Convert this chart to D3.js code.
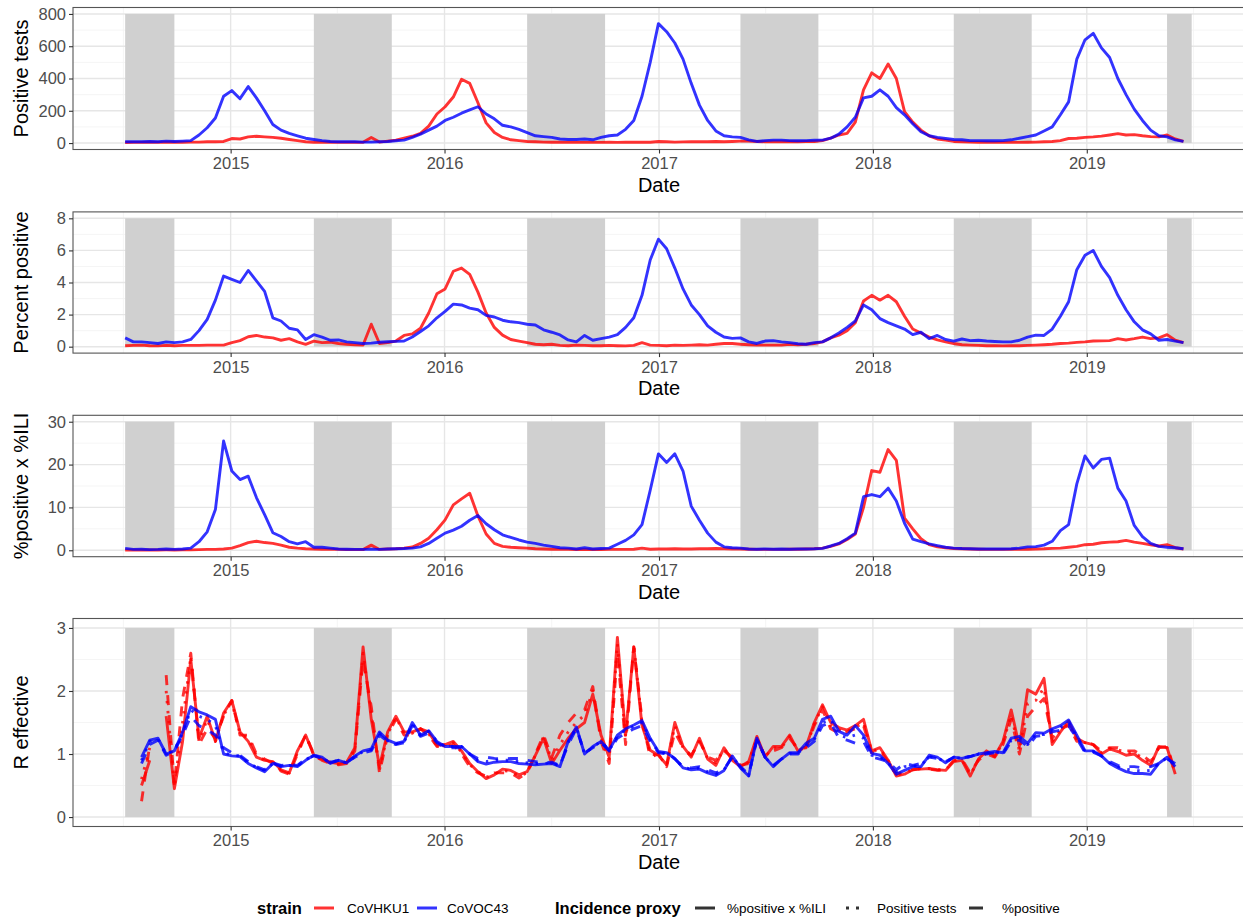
<!DOCTYPE html>
<html>
<head>
<meta charset="utf-8">
<script src="https://cdn.jsdelivr.net/npm/d3@7"></script>
<style>
  body { margin: 0; background: #fff; }
  svg { display: block; font-family: "Liberation Sans", Arial, Helvetica, sans-serif; }
</style>
</head>
<body>
<svg id="chart" width="1243" height="921"></svg>
<script>
// ---------------------------------------------------------------------------
// Fortnightly surveillance series, July 2014 – June 2019
// ---------------------------------------------------------------------------
const sampleStart = "2014-07-05";
const sampleStepDays = 14;
const sampleCount = 130;

const strains = ["CoVHKU1", "CoVOC43"];
const strainColors = ["#ff0000", "#0000ff"];
const proxies = ["%positive x %ILI", "Positive tests", "%positive"];

// Off-season periods (shaded)
const offSeasonStart = ["2014-07-05", "2015-05-23", "2016-05-21", "2017-05-20", "2018-05-19", "2019-05-18"];
const offSeasonEnd   = ["2014-09-27", "2015-10-03", "2016-10-01", "2017-09-30", "2018-09-29", "2019-06-29"];

const yearTicks = ["2015", "2016", "2017", "2018", "2019"];

// Positive tests
const posTestsHKU1 = [
  3,4,4,5,4,5,5,5,6,6,
  8,8,10,28,25,38,42,38,35,30,
  22,15,8,5,5,5,4,4,4,5,
  35,6,12,18,30,42,60,105,180,225,
  285,395,370,250,125,65,35,20,15,10,
  8,6,5,5,4,4,4,4,4,5,
  4,5,5,6,5,10,8,6,7,8,
  8,8,10,8,10,12,12,10,8,8,
  8,8,8,10,10,15,30,50,60,130,
  330,435,400,490,400,195,130,80,45,25,
  18,10,8,6,5,5,4,4,4,4,
  5,6,8,10,15,28,30,35,38,43,
  50,58,50,52,45,40,38,50,25,10
];
const posTestsOC43 = [
  8,8,8,10,8,12,10,12,15,50,
  95,155,290,325,275,350,280,200,115,80,
  60,45,30,22,15,10,8,8,8,6,
  6,8,10,14,18,35,55,80,105,140,
  160,185,205,225,180,150,110,100,85,65,
  45,40,35,25,22,22,25,20,35,45,
  50,85,140,290,500,740,690,620,520,370,
  235,140,75,45,38,35,20,10,15,18,
  18,15,14,15,17,18,30,55,100,160,
  280,290,330,290,220,175,120,70,45,35,
  28,22,20,15,15,14,14,15,20,30,
  40,50,75,100,175,255,520,640,680,590,
  530,400,300,210,140,80,45,38,20,10
];

// Percent positive
const pctPosHKU1 = [
  0.06,0.08,0.1,0.06,0.05,0.08,0.06,0.08,0.08,0.08,
  0.1,0.1,0.1,0.25,0.38,0.62,0.7,0.6,0.55,0.4,
  0.5,0.3,0.15,0.35,0.25,0.28,0.2,0.15,0.12,0.1,
  1.4,0.2,0.25,0.35,0.7,0.8,1.15,2.1,3.3,3.6,
  4.7,4.9,4.5,3.4,2.1,1.2,0.72,0.45,0.35,0.25,
  0.15,0.12,0.15,0.08,0.06,0.1,0.08,0.06,0.06,0.08,
  0.06,0.05,0.08,0.25,0.1,0.08,0.06,0.1,0.08,0.1,
  0.12,0.1,0.15,0.2,0.2,0.15,0.12,0.1,0.1,0.1,
  0.1,0.15,0.12,0.15,0.2,0.3,0.55,0.72,1.0,1.5,
  2.85,3.2,2.9,3.2,2.8,1.9,1.1,0.85,0.6,0.42,
  0.3,0.2,0.12,0.1,0.08,0.06,0.06,0.05,0.06,0.06,
  0.08,0.1,0.12,0.15,0.2,0.22,0.27,0.3,0.35,0.36,
  0.38,0.5,0.42,0.5,0.6,0.5,0.55,0.75,0.4,0.25
];
const pctPosOC43 = [
  0.55,0.3,0.3,0.25,0.2,0.3,0.25,0.3,0.45,1.0,
  1.7,2.9,4.4,4.2,4.0,4.75,4.1,3.45,1.8,1.6,
  1.15,1.05,0.45,0.75,0.6,0.4,0.42,0.3,0.25,0.2,
  0.22,0.28,0.31,0.33,0.35,0.6,0.95,1.3,1.8,2.2,
  2.65,2.6,2.4,2.3,1.95,1.85,1.65,1.55,1.5,1.4,
  1.35,1.05,0.9,0.73,0.42,0.3,0.7,0.4,0.5,0.6,
  0.75,1.2,1.8,3.2,5.4,6.7,6.1,4.9,3.6,2.6,
  2.0,1.3,0.9,0.6,0.52,0.55,0.3,0.2,0.35,0.38,
  0.3,0.25,0.18,0.15,0.25,0.3,0.55,0.85,1.2,1.6,
  2.6,2.3,1.75,1.5,1.3,1.1,0.75,0.9,0.5,0.7,
  0.45,0.35,0.48,0.38,0.4,0.35,0.32,0.3,0.3,0.4,
  0.6,0.72,0.7,1.1,1.9,2.8,4.8,5.7,6.0,5.0,
  4.3,3.2,2.3,1.55,1.05,0.8,0.4,0.45,0.35,0.25
];

// %positive x %ILI
const iliHKU1 = [
  0.05,0.08,0.1,0.05,0.08,0.1,0.08,0.1,0.1,0.15,
  0.2,0.2,0.3,0.5,1.1,1.8,2.1,1.8,1.6,1.2,
  0.7,0.5,0.35,0.3,0.25,0.2,0.2,0.15,0.15,0.15,
  1.2,0.2,0.3,0.35,0.5,0.75,1.6,2.8,4.8,7.1,
  10.6,12.0,13.3,8.0,3.8,1.6,0.9,0.7,0.6,0.5,
  0.35,0.3,0.25,0.2,0.2,0.15,0.2,0.15,0.15,0.2,
  0.2,0.2,0.25,0.5,0.25,0.3,0.3,0.35,0.3,0.3,
  0.35,0.35,0.4,0.35,0.3,0.3,0.25,0.2,0.2,0.2,
  0.2,0.25,0.25,0.3,0.35,0.5,0.9,1.5,2.5,3.8,
  10.0,18.6,18.2,23.5,21.0,7.5,5.0,2.7,1.3,0.8,
  0.6,0.4,0.35,0.3,0.25,0.2,0.2,0.2,0.2,0.2,
  0.25,0.3,0.35,0.45,0.5,0.7,0.9,1.3,1.4,1.75,
  1.9,2.0,2.3,1.9,1.6,1.3,1.0,1.3,0.6,0.3
];
const iliOC43 = [
  0.45,0.2,0.25,0.15,0.2,0.3,0.2,0.3,0.5,2.0,
  4.3,9.5,25.5,18.5,16.5,17.3,12.3,8.3,4.1,3.2,
  2.0,1.5,2.0,0.7,0.7,0.5,0.3,0.25,0.2,0.2,
  0.25,0.2,0.3,0.35,0.4,0.5,0.8,1.6,2.8,4.0,
  4.7,5.6,7.0,8.1,6.2,4.8,3.6,3.0,2.4,1.9,
  1.6,1.2,0.9,0.6,0.5,0.3,0.6,0.3,0.4,0.5,
  1.4,2.3,3.6,6.0,14.0,22.5,20.5,22.5,18.5,10.3,
  7.0,4.0,1.9,0.8,0.6,0.5,0.3,0.25,0.3,0.25,
  0.3,0.25,0.3,0.3,0.35,0.45,1.0,1.6,2.7,4.0,
  12.5,13.0,12.5,14.5,11.5,6.3,2.6,2.0,1.5,1.1,
  0.7,0.5,0.4,0.35,0.3,0.3,0.3,0.3,0.35,0.5,
  0.8,0.85,1.2,2.1,4.6,6.0,15.5,22.0,19.2,21.2,
  21.5,14.5,11.5,5.8,3.2,1.6,0.9,0.7,0.6,0.35
];

// R effective, one series per strain and incidence proxy
const rIliHKU1 = [
  null,null,0.5,0.9,null,1.6,0.45,1.2,2.5,1.25,
  1.6,1.2,1.65,1.85,1.35,1.2,0.95,0.9,0.88,0.75,
  0.7,1.05,1.3,0.98,0.92,0.87,0.85,0.87,1.1,2.7,
  1.55,0.8,1.35,1.6,1.35,1.35,1.4,1.35,1.14,1.15,
  1.2,1.05,0.85,0.72,0.61,0.67,0.76,0.74,0.67,0.72,
  0.98,1.25,0.85,1.06,1.25,1.4,1.5,1.95,1.3,0.95,
  2.85,1.3,2.7,1.45,1.06,0.98,0.83,1.5,1.12,0.95,
  1.25,0.92,0.82,1.1,0.9,0.8,0.88,1.28,0.95,1.12,
  1.12,1.3,1.05,1.12,1.5,1.78,1.5,1.42,1.38,1.45,
  1.55,1.05,1.1,0.9,0.65,0.68,0.75,0.76,0.77,0.75,
  0.74,0.88,0.9,0.65,0.92,1.05,0.97,1.2,1.7,1.12,
  2.02,1.95,2.2,1.15,1.35,1.52,1.25,1.18,1.15,1.0,
  1.08,1.04,0.98,1.0,0.9,0.82,1.12,1.1,0.68,null
];
const rPctHKU1 = [
  null,null,0.25,1.15,null,2.25,0.5,1.88,2.6,1.15,
  1.4,1.25,1.6,1.85,1.3,1.3,1.0,0.92,0.85,0.73,
  0.68,1.0,1.3,1.0,0.9,0.85,0.83,0.85,1.05,2.5,
  1.75,0.7,1.3,1.55,1.3,1.3,1.4,1.3,1.12,1.12,
  1.15,1.0,0.8,0.7,0.65,0.7,0.7,0.7,0.62,0.7,
  1.0,1.3,0.95,1.3,1.5,1.65,1.7,2.07,1.2,0.85,
  2.6,1.15,2.7,1.55,0.95,1.0,0.8,1.35,1.1,0.98,
  1.2,0.95,0.9,1.05,0.95,0.82,0.85,1.2,0.98,1.05,
  1.1,1.25,1.08,1.1,1.45,1.7,1.4,1.33,1.35,1.4,
  1.45,1.02,1.05,0.88,0.68,0.72,0.75,0.78,0.76,0.74,
  0.75,0.9,0.92,0.7,0.9,1.0,0.95,1.15,1.55,1.0,
  1.6,1.75,1.88,1.25,1.4,1.45,1.2,1.2,1.15,1.05,
  1.1,1.1,1.05,1.05,0.98,0.88,1.1,1.12,0.72,null
];
const rTestsHKU1 = [
  null,null,0.6,1.1,null,2.0,0.48,1.5,2.55,1.2,
  1.55,1.2,1.62,1.82,1.32,1.25,0.98,0.9,0.87,0.74,
  0.7,1.02,1.3,0.98,0.9,0.86,0.84,0.86,1.08,2.6,
  1.65,0.75,1.32,1.58,1.33,1.33,1.4,1.32,1.13,1.13,
  1.18,1.03,0.83,0.72,0.63,0.68,0.74,0.72,0.65,0.7,
  0.98,1.28,0.9,1.15,1.35,1.5,1.62,2.0,1.25,0.9,
  2.75,1.25,2.72,1.5,1.0,0.98,0.82,1.45,1.1,0.96,
  1.22,0.93,0.86,1.08,0.92,0.8,0.87,1.25,0.96,1.1,
  1.1,1.28,1.06,1.1,1.48,1.75,1.45,1.38,1.36,1.42,
  1.5,1.04,1.08,0.9,0.66,0.7,0.75,0.77,0.77,0.75,
  0.75,0.89,0.91,0.67,0.9,1.02,0.96,1.18,1.62,1.05,
  1.8,1.85,2.05,1.2,1.38,1.48,1.22,1.18,1.15,1.02,
  1.09,1.07,1.02,1.02,0.94,0.85,1.1,1.1,0.7,null
];
const rIliOC43 = [
  null,null,0.95,1.22,1.25,1.0,1.05,1.35,1.75,1.67,
  1.62,1.55,1.0,0.97,0.96,0.85,0.78,0.72,0.85,0.8,
  0.82,0.8,0.9,0.98,0.95,0.85,0.9,0.86,0.97,1.05,
  1.08,1.35,1.22,1.17,1.2,1.5,1.3,1.37,1.2,1.12,
  1.12,1.12,1.0,0.88,0.84,0.87,0.88,0.88,0.85,0.84,
  0.83,0.84,0.85,0.8,1.2,1.43,1.0,1.12,1.2,1.06,
  1.3,1.4,1.46,1.53,1.25,1.04,1.02,0.93,0.78,0.75,
  0.76,0.7,0.66,0.74,0.97,0.78,0.65,1.25,0.95,0.8,
  0.92,1.02,1.02,1.17,1.25,1.55,1.6,1.36,1.3,1.45,
  1.3,1.01,0.98,0.85,0.68,0.74,0.8,0.8,0.98,0.95,
  0.86,0.95,0.93,0.96,1.0,1.02,1.04,1.02,1.25,1.28,
  1.17,1.34,1.33,1.4,1.45,1.54,1.3,1.05,1.05,0.97,
  0.85,0.78,0.72,0.69,0.69,0.68,0.85,0.95,0.8,null
];
const rPctOC43 = [
  null,null,0.85,1.15,1.22,0.98,1.05,1.3,1.6,1.45,
  1.38,1.3,1.1,1.02,0.98,0.88,0.8,0.75,0.86,0.82,
  0.83,0.82,0.92,0.97,0.93,0.87,0.9,0.87,0.95,1.02,
  1.05,1.3,1.2,1.15,1.18,1.45,1.28,1.33,1.18,1.1,
  1.1,1.1,1.0,0.93,0.95,0.93,0.92,0.93,0.93,0.9,
  0.88,0.86,0.87,0.82,1.15,1.4,1.02,1.1,1.18,1.05,
  1.25,1.33,1.4,1.45,1.2,1.02,1.0,0.92,0.8,0.78,
  0.8,0.75,0.7,0.76,0.95,0.8,0.68,1.22,0.95,0.82,
  0.92,1.0,1.0,1.1,1.2,1.45,1.5,1.25,1.22,1.17,
  1.2,0.95,0.92,0.88,0.75,0.85,0.82,0.85,0.95,0.93,
  0.88,0.95,0.94,0.96,1.0,1.0,1.02,1.0,1.2,1.22,
  1.12,1.28,1.3,1.35,1.38,1.45,1.25,1.02,1.03,0.97,
  0.88,0.82,0.8,0.8,0.78,0.8,0.85,0.92,0.85,null
];
const rTestsOC43 = [
  null,null,0.9,1.2,1.24,1.0,1.06,1.33,1.7,1.6,
  1.55,1.45,1.02,0.98,0.97,0.86,0.79,0.74,0.85,0.81,
  0.82,0.81,0.91,0.98,0.94,0.86,0.9,0.86,0.96,1.04,
  1.07,1.33,1.21,1.16,1.19,1.48,1.3,1.36,1.2,1.12,
  1.12,1.12,1.0,0.9,0.88,0.9,0.9,0.9,0.88,0.86,
  0.85,0.85,0.86,0.81,1.18,1.42,1.0,1.11,1.2,1.06,
  1.28,1.38,1.44,1.5,1.23,1.03,1.01,0.93,0.79,0.76,
  0.78,0.72,0.68,0.75,0.96,0.79,0.66,1.24,0.95,0.81,
  0.92,1.01,1.01,1.14,1.23,1.5,1.55,1.3,1.26,1.3,
  1.25,0.98,0.95,0.86,0.72,0.8,0.81,0.82,0.96,0.94,
  0.87,0.95,0.93,0.96,1.0,1.01,1.03,1.01,1.22,1.25,
  1.15,1.31,1.31,1.38,1.42,1.5,1.28,1.04,1.04,0.97,
  0.86,0.8,0.76,0.74,0.73,0.74,0.85,0.94,0.82,null
];

// ---------------------------------------------------------------------------
// Layout
// ---------------------------------------------------------------------------
const parse = d3.utcParse("%Y-%m-%d");
const dates = d3.range(sampleCount).map(i => d3.utcDay.offset(parse(sampleStart), sampleStepDays * i));

const svg = d3.select("#chart");
const plotLeft = 73, plotRight = 1245;

const x = d3.scaleUtc()
  .domain([parse("2014-04-07"), parse("2019-09-28")])
  .range([plotLeft, plotRight]);

const majorX = yearTicks.map(y => parse(y + "-01-01"));
const minorX = ["2014", "2015", "2016", "2017", "2018", "2019"].map(y => parse(y + "-07-02"));

const dashFor = {
  "%positive x %ILI": null,
  "Positive tests": "2.5,7.5",
  "%positive": "10,10"
};

const panels = [
  { title: "Positive tests", top: 7.5, bottom: 149.5, domain: [-40, 840],
    ticks: [0, 200, 400, 600, 800], minor: [100, 300, 500, 700], shadeTop: 800,
    series: [
      { values: posTestsHKU1, strain: 0, proxy: "%positive x %ILI" },
      { values: posTestsOC43, strain: 1, proxy: "%positive x %ILI" }
    ] },
  { title: "Percent positive", top: 211.9, bottom: 353.1, domain: [-0.4, 8.4],
    ticks: [0, 2, 4, 6, 8], minor: [1, 3, 5, 7], shadeTop: 8,
    series: [
      { values: pctPosHKU1, strain: 0, proxy: "%positive x %ILI" },
      { values: pctPosOC43, strain: 1, proxy: "%positive x %ILI" }
    ] },
  { title: "%positive x %ILI", top: 415.3, bottom: 556.7, domain: [-1.5, 31.5],
    ticks: [0, 10, 20, 30], minor: [5, 15, 25], shadeTop: 30,
    series: [
      { values: iliHKU1, strain: 0, proxy: "%positive x %ILI" },
      { values: iliOC43, strain: 1, proxy: "%positive x %ILI" }
    ] },
  { title: "R effective", top: 618.5, bottom: 826.5, domain: [-0.15, 3.15],
    ticks: [0, 1, 2, 3], minor: [0.5, 1.5, 2.5], shadeTop: 3,
    series: [
      { values: rIliHKU1, strain: 0, proxy: "%positive x %ILI" },
      { values: rTestsHKU1, strain: 0, proxy: "Positive tests" },
      { values: rPctHKU1, strain: 0, proxy: "%positive" },
      { values: rIliOC43, strain: 1, proxy: "%positive x %ILI" },
      { values: rTestsOC43, strain: 1, proxy: "Positive tests" },
      { values: rPctOC43, strain: 1, proxy: "%positive" }
    ] }
];

const gridMajor = "#e6e6e6", gridMinor = "#f2f2f2";
const tickColor = "#4d4d4d";

panels.forEach((p, pi) => {
  const g = svg.append("g").attr("class", "panel-" + pi);
  const y = d3.scaleLinear().domain(p.domain).range([p.bottom, p.top]);

  // background + grid
  g.append("rect").attr("x", plotLeft).attr("y", p.top)
    .attr("width", plotRight - plotLeft).attr("height", p.bottom - p.top).attr("fill", "#fff");

  g.selectAll(".ymin").data(p.minor).join("line")
    .attr("x1", plotLeft).attr("x2", plotRight)
    .attr("y1", d => y(d)).attr("y2", d => y(d))
    .attr("stroke", gridMinor).attr("stroke-width", 0.8);
  g.selectAll(".xmin").data(minorX).join("line")
    .attr("x1", d => x(d)).attr("x2", d => x(d))
    .attr("y1", p.top).attr("y2", p.bottom)
    .attr("stroke", gridMinor).attr("stroke-width", 0.8);
  g.selectAll(".ymaj").data(p.ticks).join("line")
    .attr("x1", plotLeft).attr("x2", plotRight)
    .attr("y1", d => y(d)).attr("y2", d => y(d))
    .attr("stroke", gridMajor).attr("stroke-width", 1.4);
  g.selectAll(".xmaj").data(majorX).join("line")
    .attr("x1", d => x(d)).attr("x2", d => x(d))
    .attr("y1", p.top).attr("y2", p.bottom)
    .attr("stroke", gridMajor).attr("stroke-width", 1.4);

  // off-season shading
  g.selectAll(".shade").data(offSeasonStart.map((s, i) => [parse(s), parse(offSeasonEnd[i])])).join("rect")
    .attr("x", d => x(d[0])).attr("width", d => x(d[1]) - x(d[0]))
    .attr("y", y(p.shadeTop)).attr("height", y(0) - y(p.shadeTop))
    .attr("fill", "#d0d0d0");

  // series lines
  const line = d3.line()
    .defined(d => d.v != null)
    .x(d => x(d.date)).y(d => y(d.v));
  p.series.forEach(s => {
    const pts = s.values.map((v, i) => ({ date: dates[i], v }));
    g.append("path")
      .attr("d", line(pts))
      .attr("fill", "none")
      .attr("stroke", strainColors[s.strain])
      .attr("stroke-opacity", 0.8)
      .attr("stroke-width", 2.9)
      .attr("stroke-linejoin", "round")
      .attr("stroke-dasharray", dashFor[s.proxy]);
  });

  // panel border
  g.append("rect").attr("x", plotLeft).attr("y", p.top)
    .attr("width", plotRight - plotLeft).attr("height", p.bottom - p.top)
    .attr("fill", "none").attr("stroke", "#555").attr("stroke-width", 1.1);

  // y axis
  const yAxis = d3.axisLeft(y).tickValues(p.ticks).tickSize(4).tickPadding(3)
    .tickFormat(d3.format("d"));
  const ya = g.append("g").attr("transform", `translate(${plotLeft},0)`).call(yAxis);
  ya.select(".domain").remove();
  ya.selectAll(".tick line").attr("stroke", "#333").attr("stroke-width", 1.1);
  ya.selectAll(".tick text").attr("fill", tickColor)
    .style("font-size", "16.5px").style("font-family", "'Liberation Sans', Arial, sans-serif");

  // x axis
  const xAxis = d3.axisBottom(x).tickValues(majorX).tickSize(4).tickPadding(4)
    .tickFormat(d3.utcFormat("%Y"));
  const xa = g.append("g").attr("transform", `translate(0,${p.bottom})`).call(xAxis);
  xa.select(".domain").remove();
  xa.selectAll(".tick line").attr("stroke", "#333").attr("stroke-width", 1.1);
  xa.selectAll(".tick text").attr("fill", tickColor)
    .style("font-size", "16.5px").style("font-family", "'Liberation Sans', Arial, sans-serif");

  // axis titles
  g.append("text")
    .attr("x", (plotLeft + plotRight) / 2).attr("y", p.bottom + 42)
    .attr("text-anchor", "middle").attr("fill", "#000")
    .style("font-size", "20px").text("Date");
  g.append("text")
    .attr("transform", `translate(28,${(p.top + p.bottom) / 2}) rotate(-90)`)
    .attr("text-anchor", "middle").attr("fill", "#000")
    .style("font-size", "20px").text(p.title);
});

// ---------------------------------------------------------------------------
// Legend
// ---------------------------------------------------------------------------
const legend = svg.append("g").attr("class", "legend");
const legendY = 908;
const titleStyle = t => t.attr("fill", "#000").style("font-size", "16.5px").style("font-weight", "bold");
const labelStyle = t => t.attr("fill", "#000").style("font-size", "13.5px");

legend.append("text").attr("x", 257).attr("y", legendY + 6).call(titleStyle).text("strain");
[[314, 347], [417, 447]].forEach(([kx, lx], i) => {
  legend.append("line").attr("x1", kx).attr("x2", kx + 20)
    .attr("y1", legendY).attr("y2", legendY)
    .attr("stroke", strainColors[i]).attr("stroke-opacity", 0.8).attr("stroke-width", 3);
  legend.append("text").attr("x", lx).attr("y", legendY + 5).call(labelStyle).text(strains[i]);
});

legend.append("text").attr("x", 555).attr("y", legendY + 6).call(titleStyle).text("Incidence proxy");
[[695, 727], [846, 877], [969, 1002]].forEach(([kx, lx], i) => {
  legend.append("line").attr("x1", kx).attr("x2", kx + 20)
    .attr("y1", legendY).attr("y2", legendY)
    .attr("stroke", "#333").attr("stroke-width", 3)
    .attr("stroke-dasharray", dashFor[proxies[i]] ? (i === 1 ? "3,7" : "14,20") : null);
  legend.append("text").attr("x", lx).attr("y", legendY + 5).call(labelStyle).text(proxies[i]);
});
</script>
</body>
</html>
